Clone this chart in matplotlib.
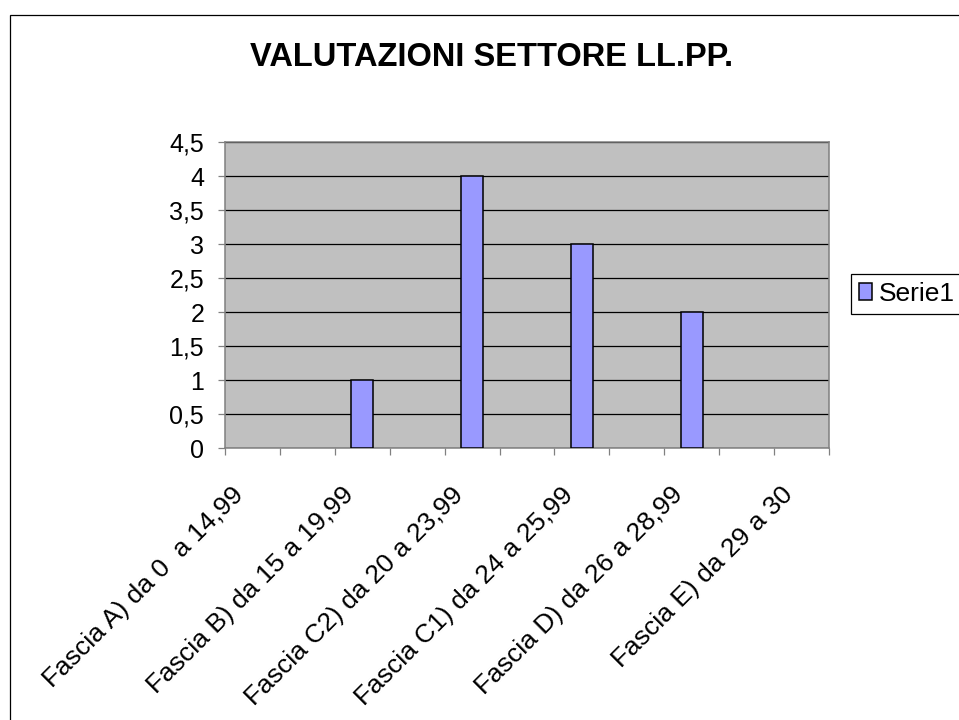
import numpy as np
import matplotlib
matplotlib.use("Agg")
from matplotlib import pyplot as plt
from matplotlib.patches import Rectangle
from matplotlib.transforms import ScaledTranslation

plt.rcParams["font.family"] = ["Liberation Sans", "DejaVu Sans"]

TITLE = "VALUTAZIONI SETTORE LL.PP."
# 11 categories in the sheet, Excel only prints every second label
CATEGORIES = [
    "Fascia A) da 0  a 14,99",
    "",
    "Fascia B) da 15 a 19,99",
    "",
    "Fascia C2) da 20 a 23,99",
    "",
    "Fascia C1) da 24 a 25,99",
    "",
    "Fascia D) da 26 a 28,99",
    "",
    "Fascia E) da 29 a 30",
]
SERIE1 = [np.nan, np.nan, 1, np.nan, 4, np.nan, 3, np.nan, 2, np.nan, np.nan]
Y_TICKS = [0, 0.5, 1, 1.5, 2, 2.5, 3, 3.5, 4, 4.5]

W, H = 959, 720
fig = plt.figure(figsize=(W / 100, H / 100), dpi=100)
fig.patch.set_facecolor("white")

# chart area frame (runs off the right and bottom of the picture)
fig.patches.append(
    Rectangle(
        (9.5 / W, -0.1),
        1.2,
        1 - 14.5 / H + 0.1,
        transform=fig.transFigure,
        fill=False,
        edgecolor="black",
        linewidth=0.9,
    )
)

ax = fig.add_axes([225 / W, 1 - 448 / H, 604 / W, 306 / H])
ax.set_facecolor("#c0c0c0")

x = np.arange(len(CATEGORIES))
bars = ax.bar(
    x,
    SERIE1,
    width=0.4,
    color="#9999ff",
    edgecolor="black",
    linewidth=1.1,
    zorder=3,
    label="Serie1",
)

ax.set_xlim(-0.5, len(CATEGORIES) - 0.5)
ax.set_ylim(0, 4.5)

# gridlines
ax.set_yticks(Y_TICKS)
ax.set_yticklabels([f"{v:g}".replace(".", ",") for v in Y_TICKS])
ax.yaxis.grid(True, color="black", linewidth=0.9, zorder=1)
ax.set_axisbelow(True)

for side in ["left", "right", "top", "bottom"]:
    ax.spines[side].set_color("#808080")
    ax.spines[side].set_linewidth(1.1)

ax.tick_params(
    axis="y", direction="out", length=5, width=0.9, color="#808080",
    pad=10, labelsize=18, labelcolor="black",
)

# category labels at centres, tick marks at boundaries
ax.set_xticks(x)
ax.set_xticklabels(CATEGORIES, rotation=45, ha="right", va="top",
                   rotation_mode="anchor", fontsize=19)
ax.set_xticks(np.arange(-0.5, len(CATEGORIES)), minor=True)
ax.tick_params(axis="x", which="major", length=0, pad=25)
ax.tick_params(axis="x", which="minor", direction="out", length=5,
               width=0.9, color="#808080")
shift = ScaledTranslation(-21 / 100, 0, fig.dpi_scale_trans)
for lab in ax.get_xticklabels():
    lab.set_transform(lab.get_transform() + shift)

fig.text(492 / W, 1 - 57 / H, TITLE, ha="center", va="center",
         fontsize=23.5, fontweight="bold")

fig.legend(
    handles=[bars],
    labels=["Serie1"],
    loc="upper left",
    bbox_to_anchor=(851 / W, 1 - 274 / H),
    frameon=True,
    fancybox=False,
    edgecolor="black",
    framealpha=1,
    fontsize=19,
    handlelength=0.5,
    handleheight=0.6,
    handletextpad=0.25,
    borderpad=0.3,
    borderaxespad=0,
)
fig.legends[0].get_frame().set_linewidth(0.9)

fig.savefig("out.png", dpi=100)
